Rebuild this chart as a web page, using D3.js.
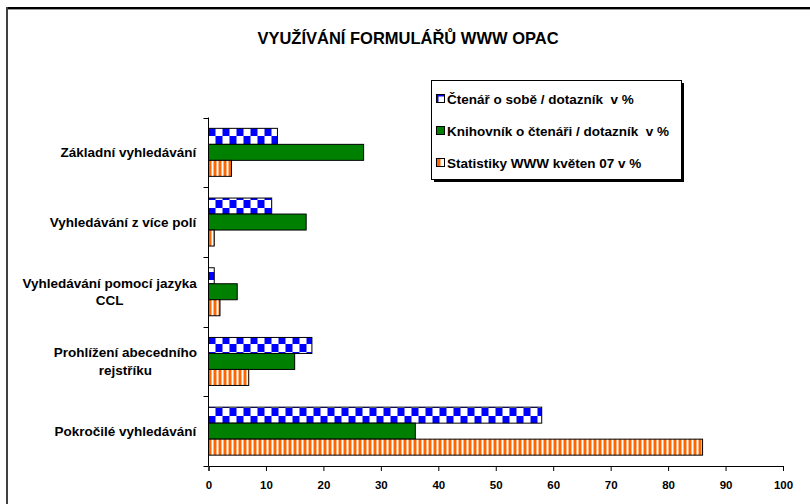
<!DOCTYPE html>
<html>
<head>
<meta charset="utf-8">
<script src="https://cdn.jsdelivr.net/npm/d3@7"></script>
<style>
  body { margin: 0; background: #fff; }
  svg { display: block; font-family: "Liberation Sans", Arial, sans-serif; font-weight: bold; }
  text { white-space: pre; }
</style>
</head>
<body>
<svg id="chart" width="810" height="504"></svg>
<script>
var categories = [
  ['Základní vyhledávání'],
  ['Vyhledávání z více polí'],
  ['Vyhledávání pomocí jazyka', 'CCL'],
  ['Prohlížení abecedního', 'rejstříku'],
  ['Pokročilé vyhledávání']
];
var seriesNames = [
  'Čtenář o sobě / dotazník  v %',
  'Knihovník o čtenáři / dotazník  v %',
  'Statistiky WWW květen 07 v %'
];
var ctenar = [12, 11, 1, 18, 58];
var knihovnik = [27, 17, 5, 15, 36];
var statistiky = [4, 1, 2, 7, 86];
var xTicks = [0, 10, 20, 30, 40, 50, 60, 70, 80, 90, 100];

var svg = d3.select('#chart');
var defs = svg.append('defs');

// checkerboard
var chk = defs.append('pattern').attr('id', 'pChk')
  .attr('patternUnits', 'userSpaceOnUse').attr('width', 14).attr('height', 16)
  .attr('x', 208.5).attr('y', 0);
chk.append('rect').attr('width', 14).attr('height', 16).attr('fill', '#fff');
chk.append('rect').attr('x', 0).attr('y', 0).attr('width', 7).attr('height', 8).attr('fill', '#0000ff');
chk.append('rect').attr('x', 7).attr('y', 8).attr('width', 7).attr('height', 8).attr('fill', '#0000ff');

// vertical stripes
var str = defs.append('pattern').attr('id', 'pStr')
  .attr('patternUnits', 'userSpaceOnUse').attr('width', 5).attr('height', 10)
  .attr('x', 208.5).attr('y', 0);
str.append('rect').attr('width', 5).attr('height', 10).attr('fill', '#fff');
str.append('rect').attr('x', 0).attr('width', 3).attr('height', 10).attr('fill', '#ff6600');

var fills = ['url(#pChk)', '#008000', 'url(#pStr)'];
var swatchFills = ['url(#pChkS)', '#008000', 'url(#pStrS)'];

// small swatch patterns for legend
var chkS = defs.append('pattern').attr('id', 'pChkS')
  .attr('patternUnits', 'objectBoundingBox').attr('width', 1).attr('height', 1);
chkS.append('rect').attr('width', 9).attr('height', 9).attr('fill', '#fff');
chkS.append('rect').attr('width', 9).attr('height', 2).attr('fill', '#0000ff');
chkS.append('rect').attr('width', 2).attr('height', 9).attr('fill', '#0000ff');
var strS = defs.append('pattern').attr('id', 'pStrS')
  .attr('patternUnits', 'objectBoundingBox').attr('width', 1).attr('height', 1);
strS.append('rect').attr('width', 9).attr('height', 9).attr('fill', '#fff');
strS.append('rect').attr('width', 4).attr('height', 9).attr('fill', '#ff6600');

// outer frame (top + left edge, rest runs off the page)
svg.append('rect').attr('x', 6).attr('y', 9).attr('width', 804).attr('height', 1)
  .attr('fill', '#999');
svg.append('rect').attr('x', 6).attr('y', 7).attr('width', 804).attr('height', 2)
  .attr('fill', '#000');
svg.append('rect').attr('x', 6).attr('y', 7).attr('width', 2).attr('height', 497)
  .attr('fill', '#404040');

svg.append('text').attr('x', 408).attr('y', 44).attr('text-anchor', 'middle')
  .attr('font-size', 16.5).text('VYUŽÍVÁNÍ FORMULÁŘŮ WWW OPAC');

var x = d3.scaleLinear().domain([0, 100]).range([208.5, 783]);
var y = d3.scaleBand().domain(d3.range(categories.length)).range([117.5, 466]);

var data = [ctenar, knihovnik, statistiky];
var barH = 16;

data.forEach(function (vals, si) {
  svg.append('g').selectAll('rect').data(vals).enter().append('rect')
    .attr('x', x(0))
    .attr('y', function (d, i) { return y(i) + y.bandwidth() / 2 - 1.5 * barH + si * barH; })
    .attr('width', function (d) { return x(d) - x(0); })
    .attr('height', barH)
    .attr('fill', fills[si])
    .attr('stroke', '#000').attr('stroke-width', 1);
});

// x axis
var xAxis = svg.append('g').attr('transform', 'translate(0,466)')
  .call(d3.axisBottom(x).tickValues(xTicks).tickSize(5).tickPadding(10));
xAxis.select('.domain').attr('stroke', '#000');
xAxis.selectAll('text').attr('font-size', 11.5).attr('font-family', null).attr('fill', '#000');

// y axis
var yAxis = svg.append('g').attr('transform', 'translate(208.5,0)');
yAxis.append('line').attr('y1', 117.5).attr('y2', 466).attr('stroke', '#000');
yAxis.selectAll('.tk').data(d3.range(categories.length + 1)).enter().append('line')
  .attr('x1', -5).attr('x2', 0)
  .attr('y1', function (d) { return Math.round(117.5 + d * y.bandwidth()) + 0.5; })
  .attr('y2', function (d) { return Math.round(117.5 + d * y.bandwidth()) + 0.5; })
  .attr('stroke', '#000');

// category labels: lines centred on each other, block right-aligned by the axis
categories.forEach(function (lines, i) {
  var cy = y(i) + y.bandwidth() / 2;
  var t = svg.append('text').attr('font-size', 13.5).attr('text-anchor', 'middle');
  lines.forEach(function (l, j) {
    t.append('tspan').attr('x', 0)
      .attr('y', cy + 4.5 + (j - (lines.length - 1) / 2) * 17.5).text(l);
  });
  var w = t.node().getBBox().width;
  t.selectAll('tspan').attr('x', 197 - w / 2);
});

// legend
var lg = svg.append('g');
lg.append('rect').attr('x', 434).attr('y', 83).attr('width', 250).attr('height', 99)
  .attr('fill', '#000');
lg.append('rect').attr('x', 431.5).attr('y', 80.5).attr('width', 250).attr('height', 99)
  .attr('fill', '#fff').attr('stroke', '#000');
seriesNames.forEach(function (name, i) {
  var ly = 99 + i * 32;
  lg.append('rect').attr('x', 436.5).attr('y', ly - 4.5).attr('width', 8).attr('height', 8)
    .attr('fill', swatchFills[i]).attr('stroke', '#000');
  lg.append('text').attr('x', 447).attr('y', ly + 4.5).attr('font-size', 13.5).text(name);
});
</script>
</body>
</html>
